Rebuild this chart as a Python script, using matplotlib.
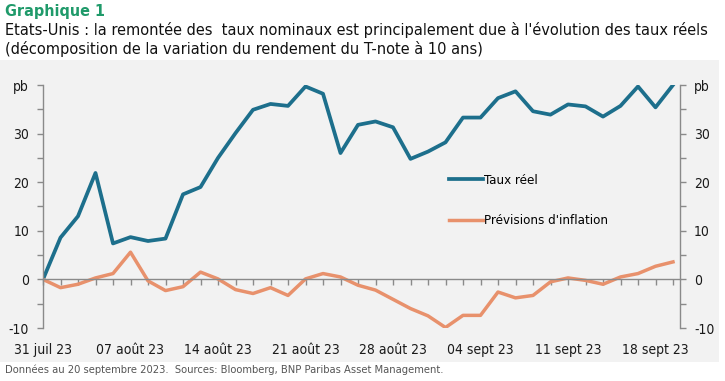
import numpy as np
import matplotlib.pyplot as plt
from matplotlib.patches import Rectangle
from matplotlib.ticker import FixedLocator, MultipleLocator

# Decomposition of the 10y T-note yield change since 31 Jul 2023 (bp)
taux_reel = [0.0, 8.6, 13.0, 21.9, 7.4, 8.7, 7.9, 8.4, 17.5, 19.0,
             25.0, 30.1, 34.9, 36.1, 35.7, 39.7, 38.2, 26.0, 31.8, 32.5,
             31.3, 24.8, 26.3, 28.2, 33.3, 33.3, 37.3, 38.7, 34.6, 33.9,
             36.0, 35.6, 33.5, 35.7, 39.7, 35.4, 40.0]
inflation = [0.0, -1.7, -1.0, 0.3, 1.2, 5.6, -0.3, -2.3, -1.5, 1.5,
             0.1, -2.1, -2.9, -1.7, -3.3, 0.1, 1.2, 0.5, -1.2, -2.2,
             -4.1, -6.0, -7.5, -9.9, -7.4, -7.4, -2.6, -3.8, -3.3, -0.5,
             0.3, -0.2, -1.0, 0.5, 1.2, 2.7, 3.6]
date_labels = ['31 juil 23', '07 août 23', '14 août 23', '21 août 23',
               '28 août 23', '04 sept 23', '11 sept 23', '18 sept 23']
y_ticks = [-10, 0, 10, 20, 30, 40]
y_labels = ['-10', '0', '10', '20', '30', 'pb']

plt.rcParams['font.family'] = ['DejaVu Sans']
plt.rcParams['font.stretch'] = 'condensed'

blue = '#1d6f8c'
orange = '#e8916c'
grey = '#8a8a8a'

fig = plt.figure(figsize=(7.25, 3.81), dpi=100)
fig.patch.set_facecolor('white')
fig.patches.append(Rectangle((0, 19 / 381), 719 / 725, 302 / 381,
                             transform=fig.transFigure, facecolor='#f2f2f2',
                             edgecolor='none', zorder=-1))

ax = fig.add_axes([43 / 725, 53 / 381, 637 / 725, 243 / 381])
ax.set_facecolor('none')
ax.set_zorder(1)

x = np.arange(len(taux_reel))
ax.plot(x, taux_reel, color=blue, lw=2.7, label='Taux réel')
ax.plot(x, inflation, color=orange, lw=2.5, label="Prévisions d'inflation")

ax.set_xlim(0, 36.4)
ax.set_ylim(-10, 40)

# y axes on both sides
ax.yaxis.set_major_locator(FixedLocator(y_ticks))
ax.set_yticklabels(y_labels)
ax.yaxis.set_minor_locator(MultipleLocator(5))
ax.tick_params(axis='y', which='both', left=True, right=True, labelleft=True,
               labelright=True, direction='out', length=4, width=1,
               color=grey, labelsize=10, labelcolor='#1a1a1a', pad=6)

# x axis drawn along zero, date labels pushed to the bottom
ax.spines['bottom'].set_position(('data', 0))
ax.set_xticks(np.arange(0, 36, 5))
ax.set_xticklabels(date_labels)
ax.xaxis.set_minor_locator(MultipleLocator(1))
ax.tick_params(axis='x', which='both', direction='out', length=4, width=1,
               color=grey, labelsize=10, labelcolor='#1a1a1a', pad=42)
ax.spines['top'].set_visible(False)
for s in ['left', 'right', 'bottom']:
    ax.spines[s].set_color(grey)
    ax.spines[s].set_linewidth(1)

ax.legend(loc='upper left', bbox_to_anchor=(0.629, 0.655), frameon=False,
          fontsize=9.5, handlelength=2.6, handletextpad=0.05,
          labelspacing=2.05, borderaxespad=0)

fig.text(5 / 725, 1 - 4 / 381, 'Graphique 1', color='#1f9a6a',
         fontsize=11.5, fontweight='bold', va='top', ha='left')
fig.text(5 / 725, 1 - 22 / 381,
         "Etats-Unis : la remontée des  taux nominaux est principalement due à l'évolution des taux réels",
         fontsize=11.7, va='top', ha='left', color='#111111')
fig.text(5 / 725, 1 - 41 / 381,
         "(décomposition de la variation du rendement du T-note à 10 ans)",
         fontsize=11.7, va='top', ha='left', color='#111111')
fig.text(5 / 725, 1 - 370 / 381,
         'Données au 20 septembre 2023.  Sources: Bloomberg, BNP Paribas Asset Management.',
         fontsize=8, va='center', ha='left', color='#555555')

fig.savefig('out.png', dpi=100)
